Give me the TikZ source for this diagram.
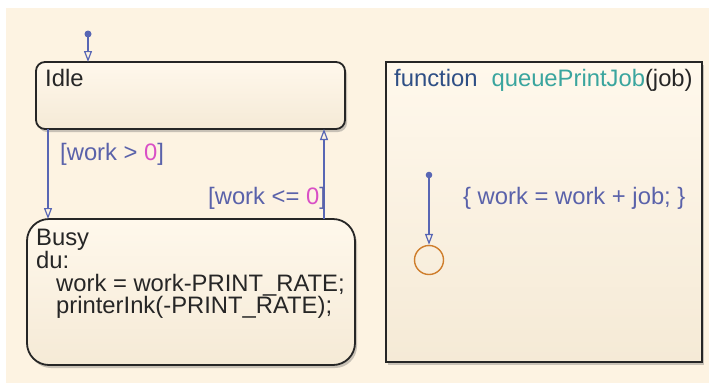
\documentclass[tikz,border=0pt]{standalone}
\usepackage{fontspec}
\setmainfont{Liberation Sans}
\usetikzlibrary{arrows.meta,shadows}
\definecolor{bgc}{HTML}{FDF3E2}
\definecolor{boxtop}{HTML}{FFF8EC}
\definecolor{boxbot}{HTML}{F5EAD6}
\definecolor{trc}{HTML}{5866B4}
\definecolor{lblc}{HTML}{5A62AA}
\definecolor{pinkc}{HTML}{D94FC6}
\definecolor{fnc}{HTML}{2F4F85}
\definecolor{tealc}{HTML}{3AA59E}
\definecolor{junc}{HTML}{CF7E2C}
\tikzset{
  statebox/.style={draw=black!85, line width=1.8pt, top color=boxtop, bottom color=boxbot,
     drop shadow={shadow xshift=2pt, shadow yshift=-3pt, opacity=0.35, fill=black!60}},
  trans/.style={draw=trc, line width=1.3pt, -{Triangle[open, length=11pt, width=8pt, line width=1.2pt]}},
  lbl/.style={text=lblc, font=\fontsize{23.8}{28}\selectfont, inner sep=0pt, anchor=base west},
  txt/.style={text=black!85, font=\fontsize{23.8}{28}\selectfont, inner sep=0pt, anchor=base west},
}
\begin{document}
\begin{tikzpicture}[x=1pt,y=-1pt]
\useasboundingbox (0,0) rectangle (709,383);
\fill[white] (0,0) rectangle (709,383);
\fill[bgc] (6,8) rectangle (709,383);
% states
\draw[statebox, rounded corners=9pt] (36,62) rectangle (345,129);
\node (idle) at (190.5,95.5) [minimum width=309pt, minimum height=67pt, inner sep=0pt] {};
\draw[statebox, rounded corners=22pt] (27,219) rectangle (355,365);
\node (busy) at (191,292) [minimum width=328pt, minimum height=146pt, inner sep=0pt] {};
\draw[statebox] (386,62) rectangle (702,362);
\node (fn) at (544,212) [minimum width=316pt, minimum height=300pt, inner sep=0pt] {};
% texts
\node[txt] (tidle) at (45,86) {Idle};
\node[txt] (tbusy) at (36,245) {Busy};
\node[txt] (tdu) at (36,268) {du:};
\node[txt] (tw) at (56,291) {work = work-PRINT\_RATE;};
\node[txt] (tp) at (56,313) {printerInk(-PRINT\_RATE);};
\node[txt] (tfn) at (394,86) {\textcolor{fnc}{function}\hspace{14pt}\textcolor{tealc}{queuePrintJob}(job)};
% default transition
\fill[trc] (88,34) circle (3.5pt);
\coordinate (d0) at (88,34);
\draw[trans] (d0) -- (88,62);
% transitions
\draw[trans] (48,129) -- (48,219);
\node[lbl] (l1) at (60,160) {[work > \textcolor{pinkc}{0}]};
\draw[trans] (324,219) -- (324,129);
\node[lbl] (l2) at (208,204) {[work <= \textcolor{pinkc}{0}]};
% function internals
\fill[trc] (429,175) circle (3.3pt);
\coordinate (f0) at (429,175);
\node[draw=junc, line width=1.4pt, circle, minimum size=29pt, inner sep=0pt] (jn) at (429,260) {};
\draw[trans] (f0) -- (jn.north);
\node[lbl] (l3) at (463,204) {\{ work = work + job; \}};
\end{tikzpicture}
\end{document}
